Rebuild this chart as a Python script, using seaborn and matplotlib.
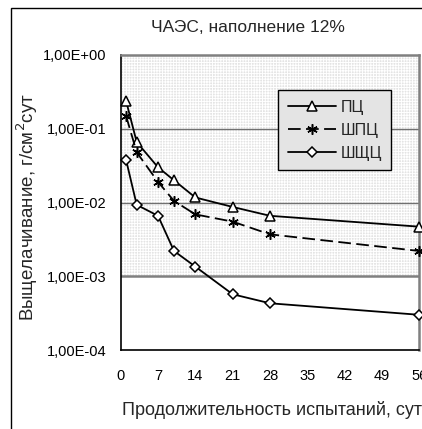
import matplotlib
matplotlib.use("Agg")
import matplotlib.pyplot as plt
from matplotlib.patches import Rectangle
import seaborn as sns
import pandas as pd

# Test duration, days
days = [1, 3, 7, 10, 14, 21, 28, 56]

# Leaching rate, g/cm²·day, for each matrix type
pc = [0.24, 0.066, 0.030, 0.020, 0.0117, 0.0087, 0.0066, 0.0047]
shpc = [0.15, 0.048, 0.019, 0.0105, 0.0069, 0.0055, 0.0037, 0.0022]
shshc = [0.038, 0.0093, 0.0066, 0.0022, 0.00135, 0.00057, 0.00043, 0.00030]

series_names = ["ПЦ", "ШПЦ", "ШЩЦ"]

x_ticks = [0, 7, 14, 21, 28, 35, 42, 49, 56]
y_ticks = [1e-4, 1e-3, 1e-2, 1e-1, 1e0]
y_tick_labels = ["1,00E-04", "1,00E-03", "1,00E-02", "1,00E-01", "1,00E+00"]

title = "ЧАЭС, наполнение 12%"
x_label = "Продолжительность испытаний, сут"
y_label = "Выщелачивание, г/см$^2$сут"

sns.set_style("white")
plt.rcParams["font.family"] = ["Liberation Sans", "DejaVu Sans"]
plt.rcParams["hatch.linewidth"] = 0.7

W, H = 422, 429
fig = plt.figure(figsize=(W / 100, H / 100), dpi=100)
fig.patch.set_facecolor("white")

left_px, right_px, top_px, bottom_px = 120.7, 419.3, 55.0, 350.0
ax = fig.add_axes([left_px / W, 1 - bottom_px / H,
                   (right_px - left_px) / W, (bottom_px - top_px) / H])
ax.set_facecolor("white")

ax.set_yscale("log")
ax.set_xlim(0, 56)
ax.set_ylim(1e-4, 1)

# Shaded band of the upper three decades
fill_color = "#e4e4e4"
ax.axhspan(1e-3, 1, facecolor=fill_color, edgecolor="white",
           hatch="+" * 6, linewidth=0, zorder=0)

# Horizontal gridlines at decades
for yv in [1e-1, 1e-2]:
    ax.axhline(yv, color="#707070", lw=1.0, zorder=1)
ax.axhline(1e-3, color="#808080", lw=1.8, zorder=1)

df = pd.DataFrame({
    "day": days * 3,
    "value": pc + shpc + shshc,
    "series": [series_names[0]] * len(days) + [series_names[1]] * len(days)
              + [series_names[2]] * len(days),
})

styles = {
    "ПЦ": dict(marker="^", ms=6.5, ls="-"),
    "ШПЦ": dict(marker=(6, 2, 0), ms=7.5, ls=(0, (7, 3))),
    "ШЩЦ": dict(marker="D", ms=4.8, ls="-"),
}

for name in series_names:
    sub = df[df["series"] == name]
    st = styles[name]
    sns.lineplot(data=sub, x="day", y="value", ax=ax, color="black",
                 lw=1.3, marker=st["marker"], markersize=st["ms"],
                 markerfacecolor="white", markeredgecolor="black",
                 markeredgewidth=1.1, linestyle=st["ls"], label=name,
                 clip_on=False, zorder=3)

ax.set_xticks(x_ticks)
ax.set_xticklabels([str(v) for v in x_ticks])
ax.set_yticks(y_ticks)
ax.set_yticklabels(y_tick_labels)
ax.minorticks_off()
ax.tick_params(axis="both", which="major", direction="out", length=6,
               width=1, color="black", labelsize=10.5, labelcolor="black")
ax.tick_params(axis="y", pad=4)
ax.tick_params(axis="x", pad=8)

ax.set_xlabel("")
ax.set_ylabel("")

for side in ["left", "bottom"]:
    ax.spines[side].set_color("black")
    ax.spines[side].set_linewidth(1.2)
for side in ["top", "right"]:
    ax.spines[side].set_color("#808080")
    ax.spines[side].set_linewidth(1.8)
    ax.spines[side].set_visible(True)

leg = ax.legend(loc="upper left", bbox_to_anchor=(0.527, 0.881),
                borderaxespad=0, frameon=True, fancybox=False,
                prop={"size": 11.5}, handlelength=3.0,
                handletextpad=0.3, labelspacing=0.5, borderpad=0.6)
leg.get_frame().set_edgecolor("black")
leg.get_frame().set_linewidth(1.0)
leg.get_frame().set_facecolor(fill_color)
leg.get_frame().set_alpha(1)

fig.text(248 / W, 1 - 28 / H, title, ha="center", va="center", fontsize=12.5)
fig.text(272 / W, 1 - 410 / H, x_label, ha="center", va="center", fontsize=13)
fig.text(27 / W, 1 - 207 / H, y_label, ha="center", va="center",
         rotation=90, fontsize=13.5)

# Outer chart frame
fig.add_artist(Rectangle((11 / W, -0.5), 2.0, 0.5 + 1 - 7.5 / H,
                         transform=fig.transFigure, fill=False,
                         edgecolor="black", lw=1.0))

fig.savefig("out.png", dpi=100)
